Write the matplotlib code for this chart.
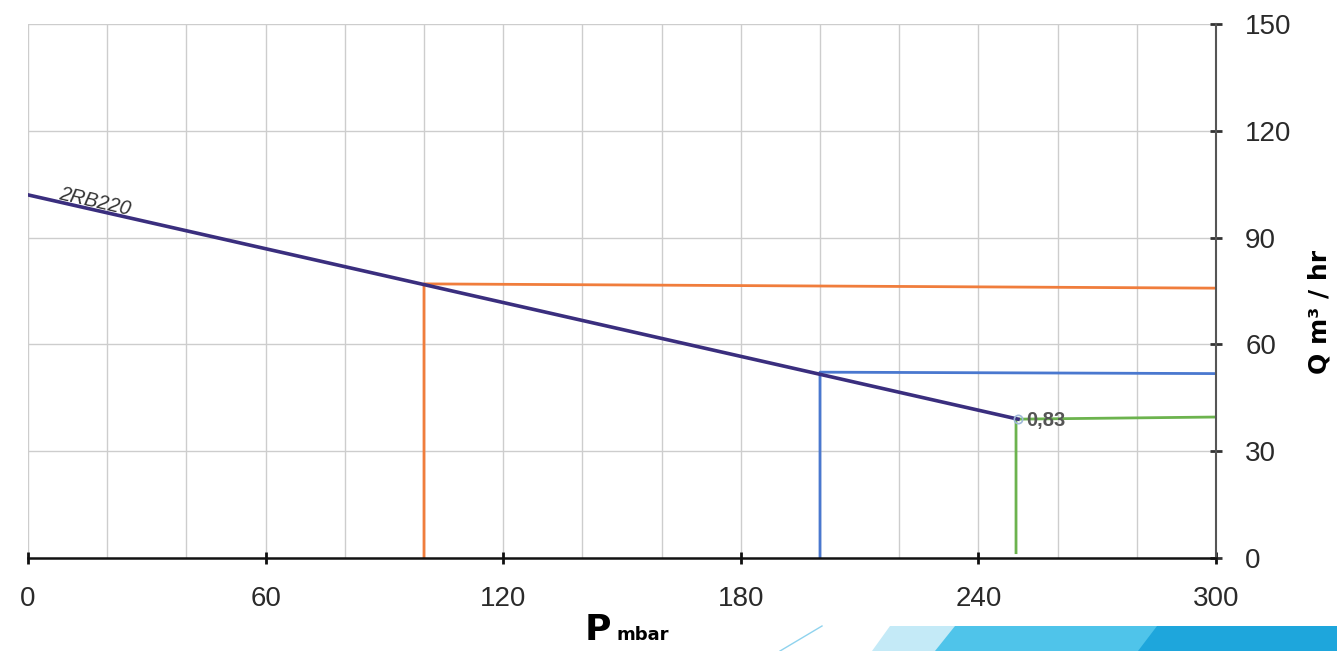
import matplotlib.pyplot as plt
from matplotlib.patches import Polygon
from matplotlib.lines import Line2D

# pump curve 2RB220
curve_p = [0, 250]
curve_q = [102, 39]

# operating points (vertical drop + horizontal line to the right)
orange_p = [100, 100, 300]
orange_q = [0, 77, 75.8]
blue_p = [200, 200, 300]
blue_q = [0, 52.2, 51.8]
green_p = [249.5, 249.5, 300]
green_q = [1.5, 39, 39.6]

x_ticks = [0, 60, 120, 180, 240, 300]
y_ticks = [0, 30, 60, 90, 120, 150]

fig = plt.figure(figsize=(13.37, 6.51), dpi=100)
ax = fig.add_axes([28 / 1337, 1 - 558 / 651, (1216 - 28) / 1337, (558 - 24) / 651])

# grid every 20 mbar / 30 m3/hr
for gx in range(0, 301, 20):
    ax.axvline(gx, color='#cdcdcd', linewidth=1, zorder=0)
for gy in range(30, 151, 30):
    ax.axhline(gy, color='#cdcdcd', linewidth=1, zorder=0)

ax.plot(orange_p, orange_q, color='#f07d3c', linewidth=2, zorder=2)
ax.plot(blue_p, blue_q, color='#4a78cf', linewidth=2, zorder=2)
ax.plot(green_p, green_q, color='#6cb34e', linewidth=2, zorder=2)
ax.plot(curve_p, curve_q, color='#3a2e7e', linewidth=2.6, zorder=3)
ax.plot([250], [39], marker='o', markersize=6, markerfacecolor='none',
        markeredgecolor='#9fb8d8', markeredgewidth=1.2, zorder=4)

ax.text(17, 100, '2RB220', rotation=-12.8, ha='center', va='center',
        fontsize=14.5, style='italic', color='#333333', family='Liberation Sans')
ax.text(252, 38.6, '0,83', ha='left', va='center', fontsize=14.5,
        fontweight='bold', color='#555555', family='Liberation Sans')

ax.set_xlim(0, 300)
ax.set_ylim(0, 150)
ax.set_xticks(x_ticks)
ax.set_yticks(y_ticks)
ax.yaxis.tick_right()

for side in ['left', 'top']:
    ax.spines[side].set_visible(False)
ax.spines['right'].set_color('#555555')
ax.spines['right'].set_linewidth(1.5)
ax.spines['bottom'].set_color('#111111')
ax.spines['bottom'].set_linewidth(1.8)

ax.tick_params(axis='x', direction='inout', length=8, width=2, color='#111111',
               pad=16, labelsize=20, labelcolor='#2a2a2a')
ax.tick_params(axis='y', direction='inout', length=8, width=2, color='#333333',
               pad=17, labelsize=20, labelcolor='#2a2a2a')
for lbl in ax.get_xticklabels() + ax.get_yticklabels():
    lbl.set_family('Liberation Sans')

# axis titles
fig.text(585 / 1337, 1 - 640 / 651, 'P', fontsize=26, fontweight='bold',
         ha='left', va='baseline')
fig.text(617 / 1337, 1 - 640 / 651, 'mbar', fontsize=13, fontweight='bold',
         ha='left', va='baseline')
fig.text(1319 / 1337, 1 - 312 / 651, 'Q m³ / hr', fontsize=18, fontweight='bold',
         rotation=90, ha='center', va='center')

# slide decoration at the bottom right
W, H = 1337, 651


def fpoly(pts, color):
    return Polygon([(x / W, 1 - y / H) for x, y in pts], closed=True,
                   transform=fig.transFigure, facecolor=color, edgecolor='none')


fig.patches.append(fpoly([(890, 626), (1337, 626), (1337, 651), (872, 651)], '#c4eaf7'))
fig.patches.append(fpoly([(955, 626), (1337, 626), (1337, 651), (935, 651)], '#4fc4ea'))
fig.patches.append(fpoly([(1157, 626), (1337, 626), (1337, 651), (1138, 651)], '#1ea6dc'))
fig.lines.append(Line2D([780 / W, 822 / W], [1 - 651 / H, 1 - 626 / H],
                        transform=fig.transFigure, color='#8fd3ee', linewidth=1))

fig.savefig('out.png', dpi=100)
